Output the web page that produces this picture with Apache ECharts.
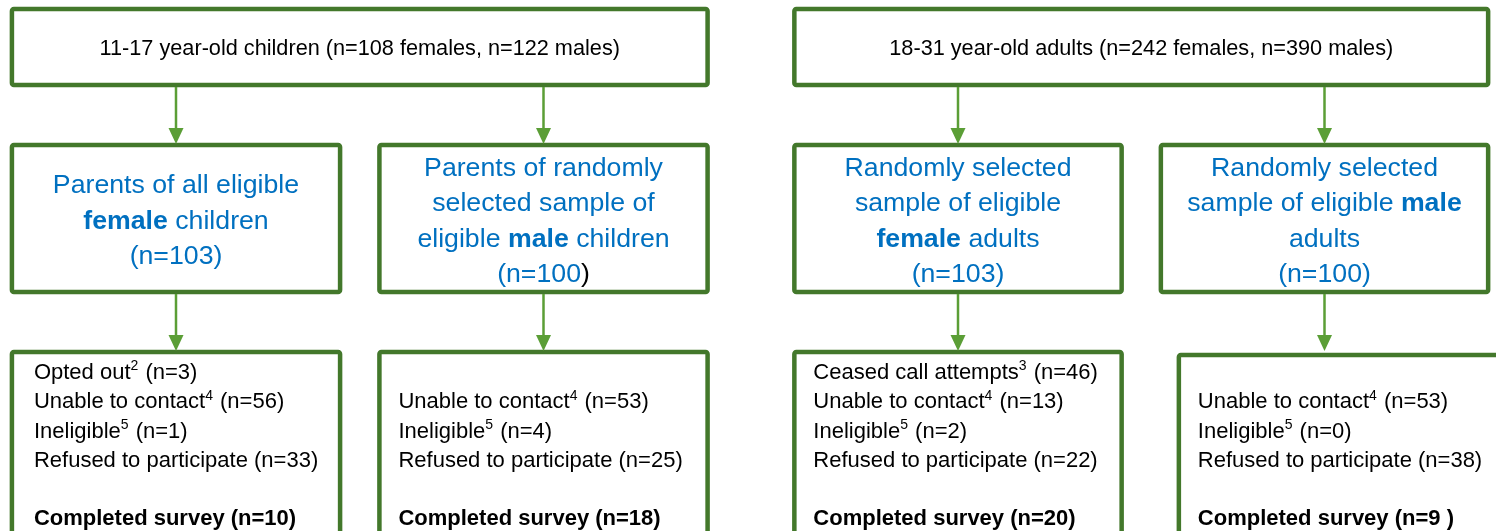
<!DOCTYPE html>
<html>
<head>
<meta charset="utf-8">
<script src="https://cdn.jsdelivr.net/npm/echarts@6/dist/echarts.min.js"></script>
<style>
  html, body { margin: 0; padding: 0; background: #fff; }
  #main { width: 1496px; height: 531px; }
</style>
</head>
<body>
<div id="main"></div>
<script>
// 数据
var groupNames = ['11-17 year-old children', '18-31 year-old adults'];
var groupFemales = [108, 242];
var groupMales = [122, 390];

// 每列: 儿童女, 儿童男, 成人女, 成人男
var sampleText = [
    'Parents of all eligible\n{b|female} children',
    'Parents of randomly\nselected sample of\neligible {b|male} children',
    'Randomly selected\nsample of eligible\n{b|female} adults',
    'Randomly selected\nsample of eligible {b|male}\nadults'
];
var sampleN = [103, 100, 103, 100];

var optedOut = [3, null, null, null];
var ceasedCalls = [null, null, 46, null];
var unableContact = [56, 53, 13, 53];
var ineligible = [1, 4, 2, 0];
var refused = [33, 25, 22, 38];
var completed = [10, 18, 20, 9];

// 布局 (y 轴单位 = 像素)
var ROW_TOP = [9, 145, 352];
var ROW_BOTTOM = [85, 292, 548];
var BOX_FRAC = 0.893;
var BORDER = '#43782b';
var ARROW = '#5b9e36';
var BLUE = '#0070c0';
var FONT = '"Liberation Sans", Arial, sans-serif';

function sup(n) { return '{sup|' + n + '}'; }

function outcomeLines(c) {
    var lines = ['', '', '', '', '', ''];
    if (optedOut[c] != null) lines[0] = 'Opted out' + sup(2) + ' (n=' + optedOut[c] + ')';
    if (ceasedCalls[c] != null) lines[0] = 'Ceased call attempts' + sup(3) + ' (n=' + ceasedCalls[c] + ')';
    lines[1] = 'Unable to contact' + sup(4) + ' (n=' + unableContact[c] + ')';
    lines[2] = 'Ineligible' + sup(5) + ' (n=' + ineligible[c] + ')';
    lines[3] = 'Refused to participate (n=' + refused[c] + ')';
    var done = c === 3 ? completed[c] + ' ' : completed[c];
    lines[5] = '{cb|Completed survey (n=' + done + ')}';
    return lines;
}

function sampleLabel(c) {
    var n = '(n=' + sampleN[c];
    // 原图里第二个框的右括号是黑色
    return sampleText[c] + '\n' + n + (c === 1 ? '{k|)}' : ')');
}

function makeRender(g) {
    return function (params, api) {
        var col = api.value(0);
        var row = api.value(1);
        var band = api.size([1, 0])[0];
        var bw = band * BOX_FRAC;
        var cx = api.coord([col, 0])[0];
        var top = api.coord([0, ROW_TOP[row]])[1];
        var bottom = api.coord([0, ROW_BOTTOM[row]])[1];
        var c = g * 2 + col;
        var left, right;
        if (row === 0) {
            left = api.coord([0, 0])[0] - bw / 2;
            right = api.coord([1, 0])[0] + bw / 2;
        } else {
            left = cx - bw / 2;
            right = cx + bw / 2;
        }
        // 最后一个框略微向右偏移
        if (row === 2 && c === 3) { left += 18; right += 18; top += 3; }

        var children = [{
            type: 'rect',
            shape: { x: left, y: top, width: right - left, height: bottom - top, r: 2 },
            style: { fill: '#fff', stroke: BORDER, lineWidth: 4.5 }
        }];

        if (row > 0) {
            var prevBottom = api.coord([0, ROW_BOTTOM[row - 1]])[1] + 2;
            var tip = api.coord([0, ROW_TOP[row]])[1] - 1;
            children.push({
                type: 'line',
                shape: { x1: cx, y1: prevBottom, x2: cx, y2: tip - 14 },
                style: { stroke: ARROW, lineWidth: 2.5 }
            });
            children.push({
                type: 'polygon',
                shape: { points: [[cx - 7.5, tip - 16], [cx + 7.5, tip - 16], [cx, tip]] },
                style: { fill: ARROW }
            });
        }

        if (row === 0) {
            children.push({
                type: 'text',
                style: {
                    text: groupNames[g] + ' (n=' + groupFemales[g] + ' females, n=' + groupMales[g] + ' males)',
                    x: (left + right) / 2, y: (top + bottom) / 2 + 2,
                    align: 'center', verticalAlign: 'middle',
                    fontFamily: FONT, fontSize: 21.7, fill: '#000'
                }
            });
        } else if (row === 1) {
            children.push({
                type: 'text',
                style: {
                    text: sampleLabel(c),
                    x: (left + right) / 2, y: (top + bottom) / 2 + 3,
                    align: 'center', verticalAlign: 'middle',
                    fontFamily: FONT, fontSize: 26.7, lineHeight: 35.5, fill: BLUE,
                    rich: {
                        b: { fontFamily: FONT, fontSize: 26.7, lineHeight: 35.5, fontWeight: 'bold', fill: BLUE },
                        k: { fontFamily: FONT, fontSize: 26.7, lineHeight: 35.5, fill: '#000' }
                    }
                }
            });
        } else {
            var textLeft = (c === 0 ? left + 22 : left + 19);
            children.push({
                type: 'text',
                style: {
                    text: outcomeLines(c).join('\n'),
                    x: textLeft, y: api.coord([0, 358.5])[1],
                    align: 'left', verticalAlign: 'top',
                    fontFamily: FONT, fontSize: 22, lineHeight: 29.2, fill: '#000',
                    rich: {
                        sup: { fontFamily: FONT, fontSize: 14, lineHeight: 28, verticalAlign: 'top', padding: [1, 1, 0, 0], fill: '#000' },
                        cb: { fontFamily: FONT, fontSize: 22, lineHeight: 29.2, fontWeight: 'bold', fill: '#000' }
                    }
                }
            });
        }
        return { type: 'group', children: children };
    };
}

var myChart = echarts.init(document.getElementById('main'));

var boxItems = [[0, 0], [0, 1], [1, 1], [0, 2], [1, 2]];

var option = {
    animation: false,
    grid: [
        { left: -7.75, width: 735, top: 0, height: 531, outerBoundsMode: 'none', containLabel: false },
        { left: 774.75, width: 733, top: 0, height: 531, outerBoundsMode: 'none', containLabel: false }
    ],
    xAxis: [
        { type: 'category', gridIndex: 0, data: ['female', 'male'], show: false },
        { type: 'category', gridIndex: 1, data: ['female', 'male'], show: false }
    ],
    yAxis: [
        { type: 'value', gridIndex: 0, min: 0, max: 531, inverse: true, show: false },
        { type: 'value', gridIndex: 1, min: 0, max: 531, inverse: true, show: false }
    ],
    series: [
        { type: 'custom', xAxisIndex: 0, yAxisIndex: 0, renderItem: makeRender(0), data: boxItems, clip: false },
        { type: 'custom', xAxisIndex: 1, yAxisIndex: 1, renderItem: makeRender(1), data: boxItems, clip: false }
    ]
};
myChart.setOption(option);
</script>
</body>
</html>
